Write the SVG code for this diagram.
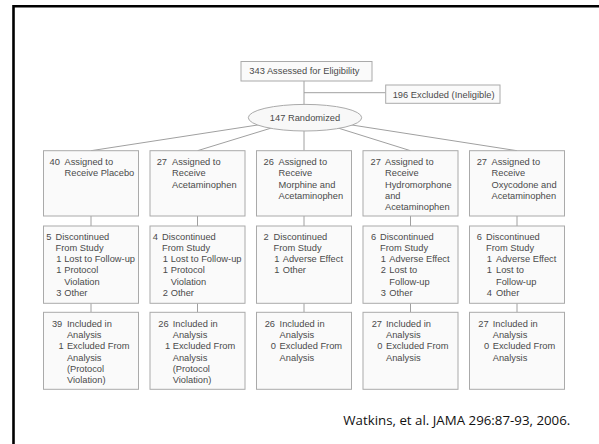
<svg xmlns="http://www.w3.org/2000/svg" width="599" height="444" viewBox="0 0 599 444">
<style>
.bx{fill:#fafafa;stroke:#aaaaaa;stroke-width:1}
.ln{stroke:#a0a0a0;stroke-width:1;fill:none}
text{font-family:"Liberation Sans",Arial,sans-serif;font-size:9.3px;fill:#4a4a4a}
.cite{font-family:"Open Sans","Liberation Sans",sans-serif;font-size:13px;fill:#111}
</style>
<rect width="599" height="444" fill="#fff"/>
<path d="M13.5,444 V6.2 H599" fill="none" stroke="#000" stroke-width="2.6"/>
<g id="connectors" class="ln">
<line x1="304" y1="81" x2="304" y2="105"/>
<line x1="304" y1="92.7" x2="385.7" y2="92.7"/>
<line x1="305" y1="117.7" x2="91" y2="150.7"/>
<line x1="305" y1="117.7" x2="197.5" y2="150.7"/>
<line x1="304" y1="117.7" x2="304" y2="150.7"/>
<line x1="305" y1="117.7" x2="410.5" y2="150.7"/>
<line x1="305" y1="117.7" x2="517" y2="150.7"/>
<line x1="91" y1="216" x2="91" y2="226"/>
<line x1="197.5" y1="216" x2="197.5" y2="226"/>
<line x1="304" y1="216" x2="304" y2="226"/>
<line x1="410.5" y1="216" x2="410.5" y2="226"/>
<line x1="517" y1="216" x2="517" y2="226"/>
<line x1="91" y1="303.3" x2="91" y2="312.3"/>
<line x1="197.5" y1="303.3" x2="197.5" y2="312.3"/>
<line x1="304" y1="303.3" x2="304" y2="312.3"/>
<line x1="410.5" y1="303.3" x2="410.5" y2="312.3"/>
<line x1="517" y1="303.3" x2="517" y2="312.3"/>
</g>
<g id="assessed"><rect class="bx" x="241" y="61.5" width="131" height="19.5"/><text x="249.3" y="74.3">343 Assessed for Eligibility</text></g>
<g id="excluded"><rect class="bx" x="385.7" y="85" width="114.3" height="18.3"/><text x="392.7" y="97.6">196 Excluded (Ineligible)</text></g>
<g id="randomized"><ellipse cx="305" cy="117.7" rx="56.7" ry="13.3" fill="#f8f8f8" stroke="#aaaaaa"/><text x="305" y="121" text-anchor="middle">147 Randomized</text></g>

<g id="a1"><rect class="bx" x="43.5" y="150.7" width="95" height="65.3"/>
<text x="49.5" y="165">40</text><text x="64.5" y="165">Assigned to</text><text x="64.5" y="176.3">Receive Placebo</text></g>
<g id="a2"><rect class="bx" x="150" y="150.7" width="95" height="65.3"/>
<text x="156.7" y="165">27</text><text x="172" y="165">Assigned to</text><text x="172" y="176.3">Receive</text><text x="172" y="187.6">Acetaminophen</text></g>
<g id="a3"><rect class="bx" x="256.5" y="150.7" width="95" height="65.3"/>
<text x="263.5" y="165">26</text><text x="278.5" y="165">Assigned to</text><text x="278.5" y="176.3">Receive</text><text x="278.5" y="187.6">Morphine and</text><text x="278.5" y="198.9">Acetaminophen</text></g>
<g id="a4"><rect class="bx" x="363" y="150.7" width="95" height="65.3"/>
<text x="370.5" y="165">27</text><text x="385" y="165">Assigned to</text><text x="385" y="176.3">Receive</text><text x="385" y="187.6">Hydromorphone</text><text x="385" y="198.9">and</text><text x="385" y="210.2">Acetaminophen</text></g>
<g id="a5"><rect class="bx" x="469.5" y="150.7" width="95" height="65.3"/>
<text x="476.7" y="165">27</text><text x="491.5" y="165">Assigned to</text><text x="491.5" y="176.3">Receive</text><text x="491.5" y="187.6">Oxycodone and</text><text x="491.5" y="198.9">Acetaminophen</text></g>

<g id="d1"><rect class="bx" x="43.5" y="226" width="95" height="77.3"/>
<text x="46.2" y="239.5">5</text><text x="55.5" y="239.5">Discontinued</text><text x="55.5" y="250.8">From Study</text>
<text x="56.2" y="262.1">1</text><text x="64.2" y="262.1">Lost to Follow-up</text>
<text x="56.2" y="273.4">1</text><text x="64.2" y="273.4">Protocol</text><text x="64.2" y="284.7">Violation</text>
<text x="56.2" y="296">3</text><text x="64.2" y="296">Other</text></g>
<g id="d2"><rect class="bx" x="150" y="226" width="95" height="77.3"/>
<text x="152.7" y="239.5">4</text><text x="162" y="239.5">Discontinued</text><text x="162" y="250.8">From Study</text>
<text x="162.7" y="262.1">1</text><text x="170.7" y="262.1">Lost to Follow-up</text>
<text x="162.7" y="273.4">1</text><text x="170.7" y="273.4">Protocol</text><text x="170.7" y="284.7">Violation</text>
<text x="162.7" y="296">2</text><text x="170.7" y="296">Other</text></g>
<g id="d3"><rect class="bx" x="256.5" y="226" width="95" height="77.3"/>
<text x="263.5" y="239.5">2</text><text x="273.5" y="239.5">Discontinued</text><text x="273.5" y="250.8">From Study</text>
<text x="274.3" y="262.1">1</text><text x="282.7" y="262.1">Adverse Effect</text>
<text x="274.3" y="273.4">1</text><text x="282.7" y="273.4">Other</text></g>
<g id="d4"><rect class="bx" x="363" y="226" width="95" height="77.3"/>
<text x="371" y="239.5">6</text><text x="380" y="239.5">Discontinued</text><text x="380" y="250.8">From Study</text>
<text x="380.7" y="262.1">1</text><text x="389.3" y="262.1">Adverse Effect</text>
<text x="380.7" y="273.4">2</text><text x="389.3" y="273.4">Lost to</text><text x="389.3" y="284.7">Follow-up</text>
<text x="380.7" y="296">3</text><text x="389.3" y="296">Other</text></g>
<g id="d5"><rect class="bx" x="469.5" y="226" width="95" height="77.3"/>
<text x="476.7" y="239.5">6</text><text x="486" y="239.5">Discontinued</text><text x="486" y="250.8">From Study</text>
<text x="486.7" y="262.1">1</text><text x="496" y="262.1">Adverse Effect</text>
<text x="486.7" y="273.4">1</text><text x="496" y="273.4">Lost to</text><text x="496" y="284.7">Follow-up</text>
<text x="486.7" y="296">4</text><text x="496" y="296">Other</text></g>

<g id="i1"><rect class="bx" x="43.5" y="312.3" width="95" height="77"/>
<text x="51.9" y="326.8">39</text><text x="66.9" y="326.8">Included in</text><text x="66.9" y="338.1">Analysis</text>
<text x="58.4" y="349.4">1</text><text x="66.9" y="349.4">Excluded From</text><text x="66.9" y="360.7">Analysis</text><text x="66.9" y="372">(Protocol</text><text x="66.9" y="383.3">Violation)</text></g>
<g id="i2"><rect class="bx" x="150" y="312.3" width="95" height="77"/>
<text x="158.3" y="326.8">26</text><text x="172.7" y="326.8">Included in</text><text x="172.7" y="338.1">Analysis</text>
<text x="165" y="349.4">1</text><text x="172.7" y="349.4">Excluded From</text><text x="172.7" y="360.7">Analysis</text><text x="172.7" y="372">(Protocol</text><text x="172.7" y="383.3">Violation)</text></g>
<g id="i3"><rect class="bx" x="256.5" y="312.3" width="95" height="77"/>
<text x="264.7" y="326.8">26</text><text x="279.6" y="326.8">Included in</text><text x="279.6" y="338.1">Analysis</text>
<text x="270.8" y="349.4">0</text><text x="279.6" y="349.4">Excluded From</text><text x="279.6" y="360.7">Analysis</text></g>
<g id="i4"><rect class="bx" x="363" y="312.3" width="95" height="77"/>
<text x="371.7" y="326.8">27</text><text x="386" y="326.8">Included in</text><text x="386" y="338.1">Analysis</text>
<text x="377.3" y="349.4">0</text><text x="386" y="349.4">Excluded From</text><text x="386" y="360.7">Analysis</text></g>
<g id="i5"><rect class="bx" x="469.5" y="312.3" width="95" height="77"/>
<text x="478.3" y="326.8">27</text><text x="492.7" y="326.8">Included in</text><text x="492.7" y="338.1">Analysis</text>
<text x="484" y="349.4">0</text><text x="492.7" y="349.4">Excluded From</text><text x="492.7" y="360.7">Analysis</text></g>

<text class="cite" x="343.3" y="425" textLength="227" lengthAdjust="spacingAndGlyphs">Watkins, et al. JAMA 296:87-93, 2006.</text>
</svg>
